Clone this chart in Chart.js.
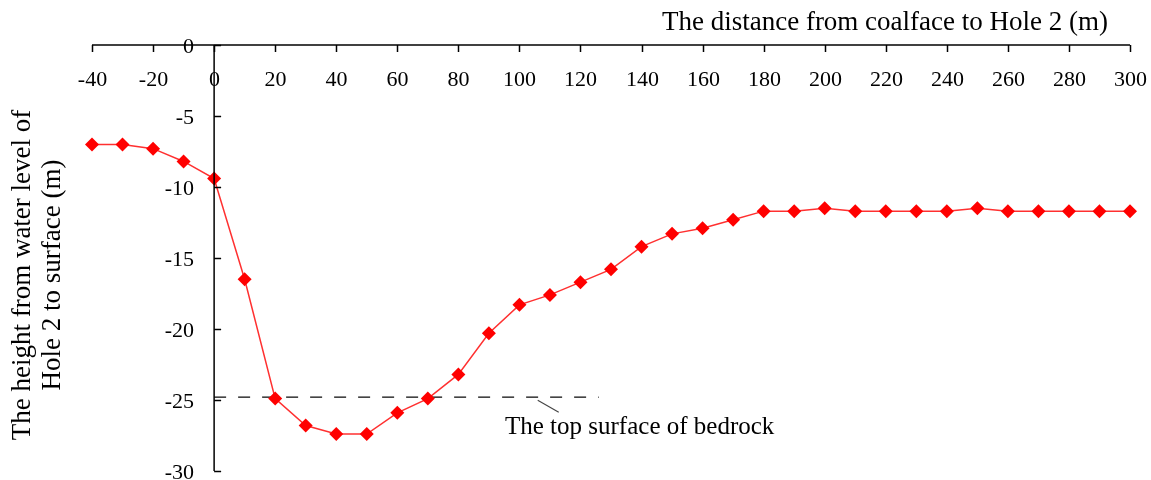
<!DOCTYPE html>
<html>
<head>
<meta charset="utf-8">
<script src="https://cdn.jsdelivr.net/npm/chart.js@4"></script>
<style>
  html, body { margin: 0; padding: 0; background: #fff; }
  canvas { display: block; }
</style>
</head>
<body>
<canvas id="waterChart" width="1151" height="480"></canvas>
<script>
// distance from coalface to Hole 2 (m)
const distance = [-40, -30, -20, -10, 0, 10, 20, 30, 40, 50, 60, 70, 80, 90, 100, 110, 120,
    130, 140, 150, 160, 170, 180, 190, 200, 210, 220, 230, 240, 250, 260, 270, 280, 290, 300];
// height of water level below surface (m)
const waterLevel = [-7.0, -7.0, -7.3, -8.2, -9.4, -16.5, -24.9, -26.8, -27.4, -27.4, -25.9, -24.9, -23.2,
    -20.3, -18.3, -17.6, -16.7, -15.8, -14.2, -13.3, -12.9, -12.3, -11.7, -11.7, -11.5, -11.7,
    -11.7, -11.7, -11.7, -11.5, -11.7, -11.7, -11.7, -11.7, -11.7];
// bedrock top surface line
const bedrockX = [0, 126];
const bedrockY = [-24.8, -24.8];

const xTicks = [-40, -20, 0, 20, 40, 60, 80, 100, 120, 140, 160, 180, 200, 220, 240, 260, 280, 300];
const yTicks = [0, -5, -10, -15, -20, -25, -30];

const xTitle = "The distance from coalface to Hole 2 (m)";
const yTitle = ["The height from water level of", "Hole 2 to surface (m)"];
const noteText = "The top surface of bedrock";

const serif = "'Liberation Serif', 'Times New Roman', serif";

// axes cross at (0, 0): draw them by hand using chart scales
const crossAxes = {
    id: 'crossAxes',
    afterDatasetsDraw(chart) {
        const ctx = chart.ctx;
        const xs = chart.scales.x;
        const ys = chart.scales.y;
        const x0 = xs.getPixelForValue(0);
        const y0 = ys.getPixelForValue(0);

        ctx.save();
        ctx.strokeStyle = '#000';
        ctx.lineWidth = 1.5;
        ctx.fillStyle = '#000';

        // x axis
        ctx.beginPath();
        ctx.moveTo(xs.getPixelForValue(xTicks[0]), y0);
        ctx.lineTo(xs.getPixelForValue(xTicks[xTicks.length - 1]), y0);
        ctx.stroke();
        ctx.font = '22px ' + serif;
        ctx.textAlign = 'center';
        ctx.textBaseline = 'middle';
        xTicks.forEach(v => {
            const px = Math.round(xs.getPixelForValue(v)) + 0.5;
            ctx.beginPath();
            ctx.moveTo(px, y0);
            ctx.lineTo(px, y0 + 7);
            ctx.stroke();
            ctx.fillText(String(v), px, y0 + 35);
        });

        // y axis
        ctx.beginPath();
        ctx.moveTo(x0, y0);
        ctx.lineTo(x0, ys.getPixelForValue(yTicks[yTicks.length - 1]));
        ctx.stroke();
        ctx.textAlign = 'right';
        yTicks.forEach(v => {
            const py = Math.round(ys.getPixelForValue(v)) + 0.5;
            ctx.beginPath();
            ctx.moveTo(x0, py);
            ctx.lineTo(x0 + 7, py);
            ctx.stroke();
            ctx.fillText(String(v), x0 - 20, py + 2);
        });

        // axis titles
        ctx.font = '27px ' + serif;
        ctx.textAlign = 'right';
        ctx.fillText(xTitle, xs.getPixelForValue(300) - 22, 23);

        ctx.save();
        ctx.translate(23, 275);
        ctx.rotate(-Math.PI / 2);
        ctx.textAlign = 'center';
        ctx.fillText(yTitle[0], 0, 0);
        ctx.fillText(yTitle[1], 0, 30);
        ctx.restore();

        // bedrock note with leader line
        const lx = xs.getPixelForValue(106);
        const ly = ys.getPixelForValue(-24.8);
        ctx.strokeStyle = '#444';
        ctx.lineWidth = 1.2;
        ctx.beginPath();
        ctx.moveTo(lx, ly + 3);
        ctx.lineTo(lx + 21, ly + 15);
        ctx.stroke();
        ctx.font = '25px ' + serif;
        ctx.textAlign = 'left';
        ctx.fillText(noteText, 505, 427);

        ctx.restore();
    }
};

const ctx = document.getElementById('waterChart').getContext('2d');
const chart = new Chart(ctx, {
    type: 'line',
    data: {
        datasets: [
            {
                label: 'Water level',
                data: distance.map((d, i) => ({ x: d, y: waterLevel[i] })),
                borderColor: '#ff3030',
                backgroundColor: '#ff0000',
                borderWidth: 1.5,
                pointStyle: 'rectRot',
                pointRadius: 7,
                pointBorderWidth: 0,
                tension: 0,
                clip: false
            },
            {
                label: 'Bedrock',
                data: bedrockX.map((d, i) => ({ x: d, y: bedrockY[i] })),
                borderColor: '#333',
                borderWidth: 1.5,
                borderDash: [12, 12],
                pointRadius: 0,
                clip: false
            }
        ]
    },
    options: {
        responsive: false,
        animation: false,
        layout: { padding: { left: 92, right: 21, top: 45, bottom: 9 } },
        plugins: {
            legend: { display: false },
            tooltip: { enabled: false }
        },
        scales: {
            x: { type: 'linear', min: -40, max: 300, display: false },
            y: { type: 'linear', min: -30, max: 0, display: false }
        }
    },
    plugins: [crossAxes]
});
</script>
</body>
</html>
